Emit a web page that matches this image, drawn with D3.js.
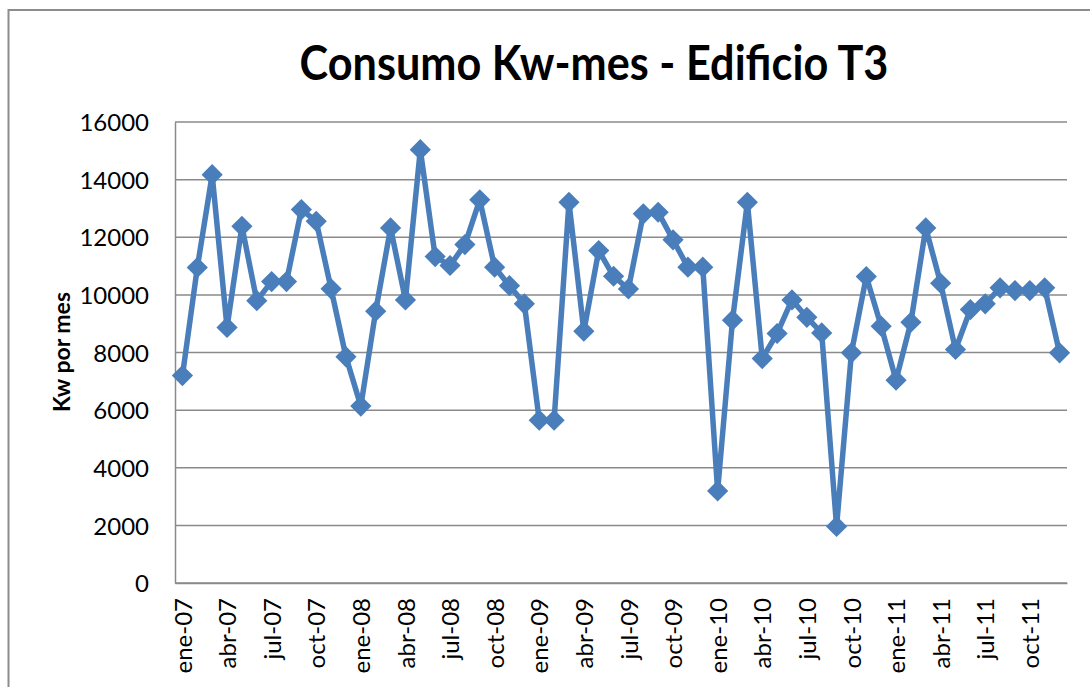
<!DOCTYPE html>
<html>
<head>
<meta charset="utf-8">
<script src="https://d3js.org/d3.v7.min.js"></script>
<style>
  body { margin: 0; background: #fff; }
  text { font-family: Lato, "Open Sans", sans-serif; fill: #000; }
</style>
</head>
<body>
<div class="viz"></div>
<script>
const width = 1090;
const height = 687;
const margin = {top: 122, right: 23, bottom: 104, left: 175};

// months shown on the axis (ene-07 .. dic-11)
const monthNames = ['ene', 'feb', 'mar', 'abr', 'may', 'jun', 'jul', 'ago', 'sep', 'oct', 'nov', 'dic'];
const years = ['07', '08', '09', '10', '11'];
const months = years.flatMap(yy => monthNames.map(m => `${m}-${yy}`));

// Kw per month
const kw2007 = [7200, 10950, 14170, 8870, 12380, 9800, 10460, 10460, 12960, 12555, 10210, 7850];
const kw2008 = [6140, 9435, 12325, 9826, 15040, 11330, 11020, 11745, 13300, 10960, 10320, 9690];
const kw2009 = [5650, 5650, 13215, 8740, 11538, 10646, 10208, 12812, 12868, 11910, 10960, 10960];
const kw2010 = [3197, 9121, 13215, 7790, 8660, 9826, 9222, 8680, 1965, 7990, 10635, 8913];
const kw2011 = [7040, 9050, 12325, 10403, 8104, 9490, 9690, 10243, 10150, 10150, 10243, 7990];
const consumo = [...kw2007, ...kw2008, ...kw2009, ...kw2010, ...kw2011];

const yTicks = [0, 2000, 4000, 6000, 8000, 10000, 12000, 14000, 16000];

const data = months.map((m, i) => ({month: m, value: consumo[i]}));

const svg = d3.select('.viz').append('svg')
  .attr('width', width)
  .attr('height', height);

// chart border
svg.append('rect')
  .attr('x', 8.5).attr('y', 10)
  .attr('width', width + 20).attr('height', height + 20)
  .attr('fill', 'none')
  .attr('stroke', '#8c8c8c')
  .attr('stroke-width', 2);

const x = d3.scalePoint()
  .domain(months)
  .range([margin.left, width - margin.right])
  .padding(0.5);

const y = d3.scaleLinear()
  .domain([0, 16000])
  .range([height - margin.bottom, margin.top]);

// gridlines
svg.append('g')
  .selectAll('line')
  .data(yTicks)
  .join('line')
    .attr('x1', margin.left)
    .attr('x2', width - margin.right)
    .attr('y1', d => y(d))
    .attr('y2', d => y(d))
    .attr('stroke', '#8a8a8a')
    .attr('stroke-width', 1.5);

// y axis
const yAxis = svg.append('g')
  .attr('transform', `translate(${margin.left},0)`)
  .call(d3.axisLeft(y).tickValues(yTicks).tickFormat(d3.format('d')).tickSize(0).tickPadding(26));
yAxis.select('.domain').attr('stroke', '#8a8a8a').attr('stroke-width', 1.5);
yAxis.selectAll('text')
  .style('font-size', '24px')
  .attr('dy', '0.36em');

// x axis, label every 3 months
const xAxis = svg.append('g')
  .attr('transform', `translate(0,${height - margin.bottom})`)
  .call(d3.axisBottom(x).tickValues(months.filter((d, i) => i % 3 === 0)).tickSize(0));
xAxis.select('.domain').attr('stroke', '#8a8a8a').attr('stroke-width', 1.5);
xAxis.selectAll('text')
  .style('font-size', '24px')
  .attr('text-anchor', 'end')
  .attr('transform', 'rotate(-90)')
  .attr('x', -15)
  .attr('y', 0)
  .attr('dy', '0.36em');

// line
const line = d3.line()
  .x(d => x(d.month))
  .y(d => y(d.value));

svg.append('path')
  .datum(data)
  .attr('fill', 'none')
  .attr('stroke', '#4a7ebb')
  .attr('stroke-width', 5.5)
  .attr('stroke-linejoin', 'round')
  .attr('d', line);

// diamond markers
svg.append('g')
  .selectAll('rect')
  .data(data)
  .join('rect')
    .attr('x', -7.5).attr('y', -7.5)
    .attr('width', 15).attr('height', 15)
    .attr('fill', '#4a7ebb')
    .attr('transform', d => `translate(${x(d.month)},${y(d.value)}) rotate(45)`);

// title, fitted to the reference width and stretched a bit taller
const title = svg.append('text')
  .attr('text-anchor', 'middle')
  .style('font-weight', 'bold')
  .style('font-size', '40px')
  .text('Consumo Kw-mes - Edificio T3');
const tw = title.node().getComputedTextLength();
title.style('font-size', (40 * 589 / tw) + 'px')
  .attr('transform', 'translate(594,80) scale(1,1.12)');

// y axis title
svg.append('text')
  .attr('transform', 'translate(70,352) rotate(-90)')
  .attr('text-anchor', 'middle')
  .style('font-weight', 'bold')
  .style('font-size', '23px')
  .text('Kw por mes');
</script>
</body>
</html>
